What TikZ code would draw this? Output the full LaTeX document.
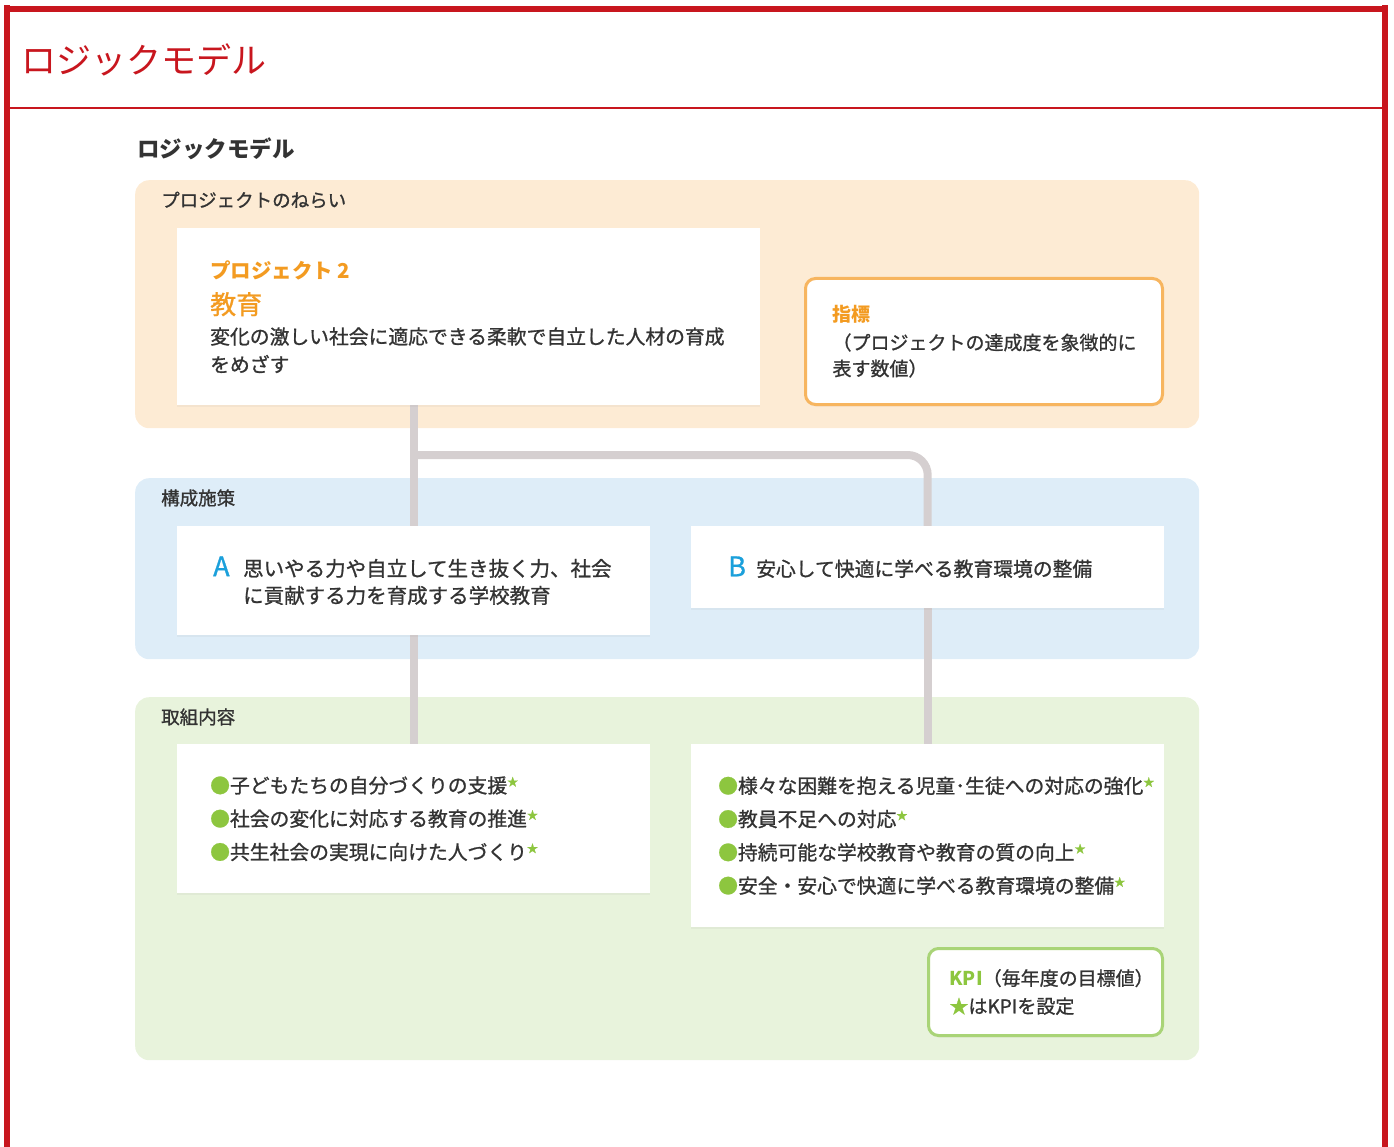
\documentclass[tikz,border=0pt]{standalone}
\usepackage{fontspec}
\setmainfont{Noto Sans CJK JP}[UprightFeatures={FakeBold=1.0}]
\newfontfamily\titlefont{Noto Sans CJK JP}
\usepackage{xcolor}
\usetikzlibrary{positioning,shadows,backgrounds}

\setlength{\parskip}{0pt}

\definecolor{framered}{HTML}{C8161E}
\definecolor{aimsbg}{HTML}{FDEBD4}
\definecolor{measbg}{HTML}{DEEDF8}
\definecolor{actbg}{HTML}{E8F3DC}
\definecolor{linkgrey}{HTML}{D5CFD0}
\definecolor{aimsorange}{HTML}{F39B21}
\definecolor{aimsborder}{HTML}{F7B55F}
\definecolor{letterblue}{HTML}{1BA0DB}
\definecolor{kpigreen}{HTML}{8DC63F}
\definecolor{kpiborder}{HTML}{A9D477}
\definecolor{bodytext}{HTML}{333333}

\newcommand{\kstar}{\raisebox{7pt}{\fontsize{11}{11}\selectfont\textcolor{kpigreen}{★}}}
\newcommand{\gdot}{\textcolor{kpigreen}{●}}
\newcommand{\bodysize}{\fontsize{19.8}{33.3}\selectfont}

\begin{document}
\begin{tikzpicture}[x=1pt,y=-1pt,
    panel/.style={rounded corners=14, minimum width=1064, anchor=north west, inner sep=0},
    card/.style={fill=white, anchor=north west, inner ysep=0, text=bodytext,
      drop shadow={shadow xshift=0pt, shadow yshift=-2pt, opacity=0.07}},
    note/.style={card, rounded corners=10, line width=3},
    paneltitle/.style={anchor=west, inner sep=0, text=bodytext, font=\fontsize{18.5}{18.5}\selectfont},
    link/.style={draw=linkgrey, line width=8}]
  \useasboundingbox (0,0) rectangle (1394,1147);

  % frame and heading
  \fill[framered] (4,5) rectangle (10,1147);
  \fill[framered] (4,6) rectangle (1388,12);
  \fill[framered] (1382,5) rectangle (1388,1147);
  \draw[framered, line width=2.5] (10,108) -- (1382,108);

  \node[anchor=west, inner sep=0, text=framered, font=\titlefont\fontsize{35}{35}\selectfont] (title) at (21,60) {ロジックモデル};
  \node[anchor=west, inner sep=0, text=bodytext, font=\bfseries\fontsize{22.5}{22.5}\selectfont] (subtitle) at (137,149) {ロジックモデル};

  % panels
  \begin{pgfonlayer}{background}
    \node[panel, fill=aimsbg, minimum height=248] (aims) at (135,180) {};
    \node[panel, fill=measbg, minimum height=181] (measures) at (135,478) {};
    \node[panel, fill=actbg, minimum height=363] (actions) at (135,697) {};
  \end{pgfonlayer}
  \node[paneltitle] (aimslabel) at (161,200) {プロジェクトのねらい};
  \node[paneltitle] (measlabel) at (161,498) {構成施策};
  \node[paneltitle] (actlabel) at (161,717) {取組内容};

  % cards
  \node[card, inner xsep=33, minimum height=177] (proj) at (177,228) {\begin{minipage}{517pt}
      {\color{aimsorange}\bfseries\fontsize{20.5}{20.5}\selectfont プロジェクト 2\par}
      {\color{aimsorange}\fontsize{26}{36}\selectfont 教育\par}
      {\fontsize{19.8}{30}\selectfont 変化の激しい社会に適応できる柔軟で自立した人材の育成\par}
      {\fontsize{19.8}{28}\selectfont をめざす\par}
    \end{minipage}};

  \node[note, draw=aimsborder, inner xsep=27, minimum height=126] (indicator) at (804,277) {\begin{minipage}{303pt}
      {\color{aimsorange}\bfseries\fontsize{19}{19}\selectfont 指標\par}
      {\fontsize{19}{28}\selectfont （プロジェクトの達成度を象徴的に\par}
      {\fontsize{19}{26}\selectfont 表す数値）\par}
    \end{minipage}};

  \node[card, inner xsep=36, minimum height=109] (measA) at (177,526) {\begin{minipage}{401pt}
      \makebox[30pt][l]{\color{letterblue}\fontsize{27}{27}\selectfont A}\parbox[t]{371pt}{\fontsize{20.5}{27}\selectfont
        思いやる力や自立して生き抜く力、社会\\に貢献する力を育成する学校教育}
    \end{minipage}};
  \node[card, inner xsep=37, minimum height=82] (measB) at (691,526) {\begin{minipage}{399pt}
      \makebox[28pt][l]{\color{letterblue}\fontsize{27}{27}\selectfont B}{\fontsize{19.8}{27}\selectfont 安心して快適に学べる教育環境の整備}
    \end{minipage}};

  \node[card, inner xsep=33, minimum height=149] (actA) at (177,744) {\begin{minipage}{407pt}\bodysize
      \gdot 子どもたちの自分づくりの支援\kstar\\
      \gdot 社会の変化に対応する教育の推進\kstar\\
      \gdot 共生社会の実現に向けた人づくり\kstar
    \end{minipage}};
  \node[card, inner xsep=27, minimum height=183] (actB) at (691,744) {\begin{minipage}{419pt}\bodysize
      \gdot 様々な困難を抱える児童･生徒への対応の強化\kstar\\
      \gdot 教員不足への対応\kstar\\
      \gdot 持続可能な学校教育や教育の質の向上\kstar\\
      \gdot 安全・安心で快適に学べる教育環境の整備\kstar
    \end{minipage}};

  \node[note, draw=kpiborder, inner xsep=21, minimum height=87] (kpi) at (927,947) {\begin{minipage}{192pt}\fontsize{19}{28}\selectfont
      {\color{kpigreen}\bfseries KPI}（毎年度の目標値）\\
      \textcolor{kpigreen}{★}はKPIを設定
    \end{minipage}};

  % connectors
  \coordinate (split) at (413.5,455);
  \begin{pgfonlayer}{background}
    \draw[link] (proj.south -| measA.north) -- (measA.north);
    \draw[link, rounded corners=20] (split) -- (split -| measB.north) -- (measB.north);
    \draw[link] (measA.south) -- (actA.north);
    \draw[link] (measB.south) -- (actB.north);
  \end{pgfonlayer}
\end{tikzpicture}
\end{document}
